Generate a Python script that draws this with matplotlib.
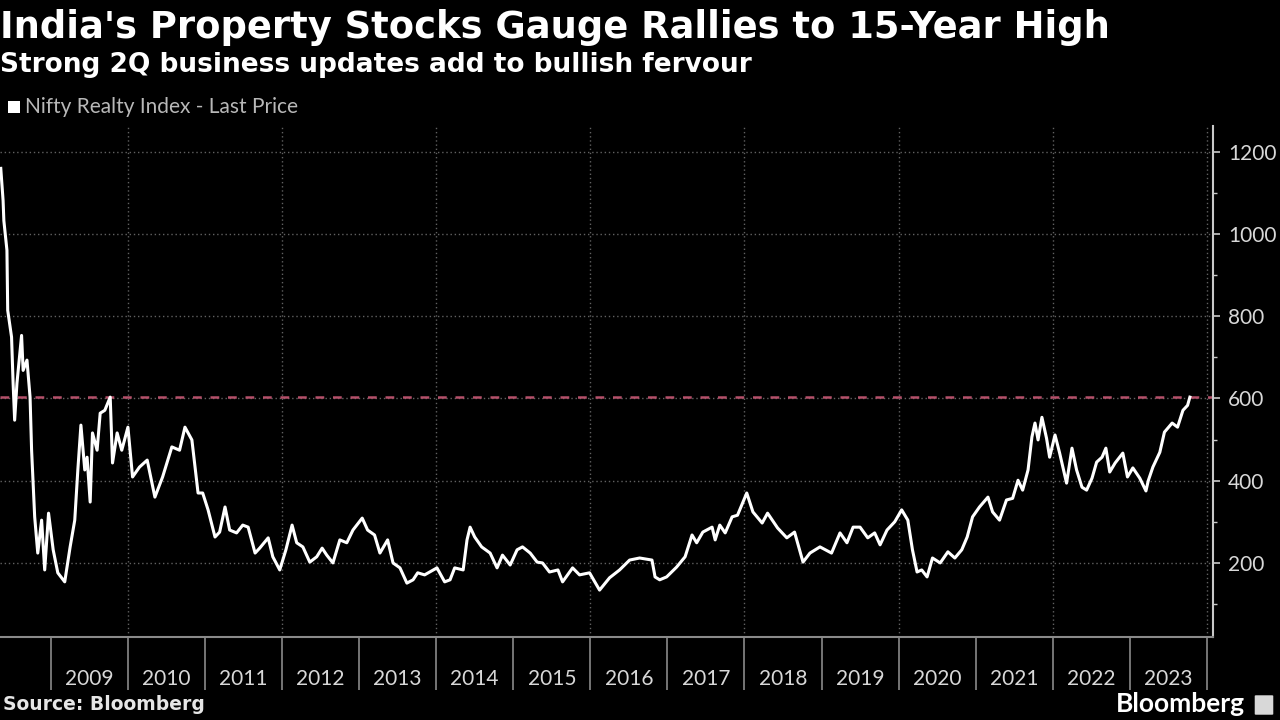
import matplotlib
matplotlib.use("Agg")
import matplotlib.pyplot as plt
from matplotlib.patches import Rectangle, FancyBboxPatch
from matplotlib.ticker import FixedLocator, NullFormatter

# ---- data (decimal year, index level) ----
years = [2008.35, 2008.38, 2008.39, 2008.43, 2008.44, 2008.49, 2008.51, 2008.53, 2008.56, 2008.62,
         2008.64, 2008.69, 2008.73, 2008.75, 2008.79, 2008.83, 2008.88, 2008.92, 2008.97, 2009.03,
         2009.09, 2009.18, 2009.25, 2009.31, 2009.35, 2009.39, 2009.44, 2009.47, 2009.51, 2009.54,
         2009.60, 2009.64, 2009.70, 2009.77, 2009.80, 2009.86, 2009.92, 2010.00, 2010.06, 2010.15,
         2010.25, 2010.35, 2010.45, 2010.57, 2010.67, 2010.74, 2010.83, 2010.91, 2010.97, 2011.04,
         2011.13, 2011.19, 2011.26, 2011.32, 2011.41, 2011.49, 2011.56, 2011.65, 2011.71, 2011.82,
         2011.88, 2011.97, 2012.05, 2012.13, 2012.19, 2012.27, 2012.36, 2012.45, 2012.52, 2012.58,
         2012.66, 2012.75, 2012.84, 2012.92, 2013.04, 2013.11, 2013.20, 2013.27, 2013.37, 2013.44,
         2013.53, 2013.62, 2013.70, 2013.76, 2013.85, 2014.01, 2014.11, 2014.18, 2014.24, 2014.35,
         2014.40, 2014.44, 2014.50, 2014.59, 2014.70, 2014.79, 2014.86, 2014.96, 2015.05, 2015.12,
         2015.22, 2015.31, 2015.38, 2015.47, 2015.58, 2015.64, 2015.77, 2015.86, 2015.99, 2016.12,
         2016.25, 2016.38, 2016.51, 2016.64, 2016.80, 2016.84, 2016.90, 2016.99, 2017.12, 2017.23,
         2017.32, 2017.38, 2017.46, 2017.58, 2017.62, 2017.68, 2017.75, 2017.84, 2017.91, 2018.03,
         2018.11, 2018.23, 2018.30, 2018.43, 2018.55, 2018.65, 2018.76, 2018.85, 2018.98, 2019.13,
         2019.24, 2019.33, 2019.41, 2019.50, 2019.60, 2019.69, 2019.76, 2019.85, 2019.95, 2020.04,
         2020.12, 2020.18, 2020.24, 2020.30, 2020.37, 2020.44, 2020.54, 2020.64, 2020.73, 2020.82,
         2020.89, 2020.96, 2021.05, 2021.16, 2021.22, 2021.31, 2021.40, 2021.48, 2021.55, 2021.61,
         2021.68, 2021.73, 2021.77, 2021.81, 2021.86, 2021.92, 2021.96, 2022.03, 2022.09, 2022.18,
         2022.25, 2022.31, 2022.38, 2022.44, 2022.51, 2022.57, 2022.64, 2022.69, 2022.74, 2022.81,
         2022.91, 2022.97, 2023.04, 2023.13, 2023.21, 2023.24, 2023.30, 2023.39, 2023.45, 2023.55,
         2023.62, 2023.69, 2023.75, 2023.78]
values = [1159, 1081, 1032, 960, 814, 749, 637, 547, 637, 753,
          668, 693, 603, 474, 312, 224, 304, 183, 321, 232,
          176, 154, 239, 304, 426, 535, 426, 457, 348, 516,
          474, 564, 571, 603, 443, 516, 474, 530, 409, 433,
          450, 360, 409, 482, 474, 530, 499, 370, 370, 329,
          263, 275, 336, 280, 273, 292, 287, 224, 236, 261,
          215, 183, 232, 292, 249, 239, 202, 215, 236, 219,
          200, 256, 249, 280, 309, 280, 268, 224, 256, 200,
          188, 151, 159, 176, 171, 188, 154, 159, 188, 183,
          256, 287, 263, 239, 224, 188, 219, 195, 232, 239,
          224, 202, 200, 178, 183, 154, 188, 171, 176, 134,
          164, 183, 207, 212, 207, 166, 159, 166, 190, 215,
          268, 249, 275, 287, 256, 292, 273, 312, 316, 370,
          324, 297, 321, 285, 261, 275, 202, 224, 239, 224,
          273, 249, 287, 287, 261, 273, 244, 280, 300, 329,
          304, 232, 178, 183, 166, 212, 200, 227, 212, 232,
          263, 312, 336, 360, 324, 304, 353, 357, 401, 377,
          426, 506, 540, 499, 554, 503, 457, 511, 467, 394,
          479, 426, 384, 377, 406, 445, 457, 479, 421, 443,
          467, 409, 431, 406, 375, 400, 433, 469, 518, 540,
          530, 571, 583, 603]

high_level = 603
year_labels = [str(y) for y in range(2009, 2024)]
y_ticks = [200, 400, 600, 800, 1000, 1200]
y_minor = [100, 300, 500, 700, 900, 1100]

title = "India's Property Stocks Gauge Rallies to 15-Year High"
subtitle = "Strong 2Q business updates add to bullish fervour"
legend_label = "Nifty Realty Index - Last Price"
source = "Source: Bloomberg"

# ---- figure ----
fig = plt.figure(figsize=(12.8, 7.2), dpi=100, facecolor="black")
ax = fig.add_axes([0.0, 1 - 637 / 720, 1213 / 1280, (637 - 126) / 720])
ax.set_facecolor("black")

ax.set_xlim(2008.34, 2024.08)
ax.set_ylim(20, 1262)

# grid
grid_kw = dict(color="#616161", lw=1.0, linestyle=(0, (1, 2)), zorder=1)
for yv in y_ticks:
    ax.axhline(yv, **grid_kw)
for xv in range(2010, 2025, 2):
    ax.axvline(xv, **grid_kw)

# reference line
ax.axhline(high_level, color="#b5506a", lw=1.8, linestyle=(0, (3.5, 3.5)), zorder=2)

# data
ax.plot(years, values, color="white", lw=2.2, zorder=3, solid_joinstyle="round")

# spines
for s in ["left", "top"]:
    ax.spines[s].set_visible(False)
ax.spines["right"].set_color("#c8c8c8")
ax.spines["right"].set_linewidth(1.5)
ax.spines["bottom"].set_color("#8a8a8a")
ax.spines["bottom"].set_linewidth(1.5)

# y axis on right
ax.yaxis.tick_right()
ax.set_yticks(y_ticks)
ax.yaxis.set_minor_locator(FixedLocator(y_minor))
ax.tick_params(axis="y", which="major", direction="out", length=5, width=1.2,
               color="#c8c8c8", labelcolor="#d8d8d8", labelsize=15, pad=6)
ax.tick_params(axis="y", which="minor", direction="out", length=3, width=1.0, color="#c8c8c8")
for lab in ax.get_yticklabels():
    lab.set_fontfamily("Lato")

# x axis: boundaries as major ticks, labels at mid-year
ax.xaxis.set_major_locator(FixedLocator(list(range(2009, 2025))))
ax.xaxis.set_major_formatter(NullFormatter())
ax.xaxis.set_minor_locator(FixedLocator([y + 0.5 for y in range(2009, 2024)]))
ax.set_xticklabels(year_labels, minor=True)
ax.tick_params(axis="x", which="major", direction="out", length=38, width=1.2, color="#8a8a8a")
ax.tick_params(axis="x", which="minor", length=0, labelcolor="#d8d8d8", labelsize=15, pad=23)
for lab in ax.get_xticklabels(minor=True):
    lab.set_fontfamily("Lato")

# titles
fig.text(0.0, 1 - 27 / 720, title, color="white", fontsize=26.6, fontweight="bold",
         fontfamily="DejaVu Sans", ha="left", va="center")
fig.text(0.0, 1 - 65 / 720, subtitle, color="white", fontsize=19, fontweight="bold",
         fontfamily="DejaVu Sans", ha="left", va="center")

# legend
fig.patches.append(Rectangle((8 / 1280, 1 - 113 / 720), 12 / 1280, 12 / 720,
                             transform=fig.transFigure, facecolor="white", edgecolor="none"))
fig.text(25 / 1280, 1 - 107 / 720, legend_label, color="#b8b8b8", fontsize=15,
         fontfamily="Lato", ha="left", va="center")

# source and logo
fig.text(3 / 1280, 1 - 705 / 720, source, color="#e6e6e6", fontsize=13.5, fontweight="bold",
         fontfamily="DejaVu Sans", ha="left", va="center")
fig.text(1245 / 1280, 1 - 704 / 720, "Bloomberg", color="white", fontsize=19, fontweight="bold",
         fontfamily="Lato", ha="right", va="center")
fig.patches.append(FancyBboxPatch((1256 / 1280, 1 - 714 / 720), 16 / 1280, 18 / 720,
                                  boxstyle="round,pad=0.001", transform=fig.transFigure,
                                  facecolor="#d8d8d8", edgecolor="none"))

fig.savefig("out.png", dpi=100, facecolor="black")
